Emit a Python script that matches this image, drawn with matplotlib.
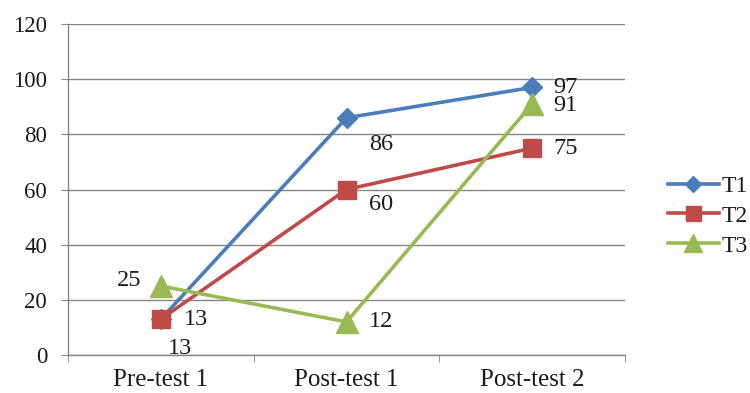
import matplotlib
matplotlib.use("Agg")
import matplotlib.pyplot as plt

categories = ["Pre-test 1", "Post-test 1", "Post-test 2"]
t1 = [13, 86, 97]
t2 = [13, 60, 75]
t3 = [25, 12, 91]
series_names = ["T1", "T2", "T3"]
y_ticks = [0, 20, 40, 60, 80, 100, 120]

plt.rcParams["font.family"] = ["Liberation Serif", "DejaVu Serif"]

fig = plt.figure(figsize=(7.5, 3.93), dpi=100)
ax = fig.add_axes([68 / 750, 1 - 355 / 393, (625 - 68) / 750, (355 - 24) / 393])

x = list(range(len(categories)))
styles = [
    (t1, "#4A7EBB", "D", 10),
    (t2, "#BE4B48", "s", 13.5),
    (t3, "#98B954", "^", 16),
]
for (vals, color, marker, ms), name in zip(styles, series_names):
    ax.plot(x, vals, color=color, lw=2.6, marker=marker, ms=ms,
            markeredgecolor=color, label=name, zorder=3, clip_on=False)

# value labels, offsets in points
offsets = {
    "T1": [(14, -21), (25, -19), (24, 0)],
    "T2": [(25, 0), (25, -11), (24, 0)],
    "T3": [(-23, 4), (25, 0), (24, -1)],
}
for vals, name in zip([t1, t2, t3], series_names):
    for xi, v, off in zip(x, vals, offsets[name]):
        ax.annotate(str(v), (xi, v), xytext=off, textcoords="offset points",
                    ha="center", va="center", fontsize=17.5, color="#1a1a1a")

ax.set_xlim(-0.5, len(categories) - 0.5)
ax.set_ylim(0, 120)
ax.set_yticks(y_ticks)
ax.set_xticks(x)
ax.set_xticklabels(categories)
ax.set_xticks([i - 0.5 for i in range(len(categories) + 1)], minor=True)
ax.tick_params(axis="x", which="major", length=0, pad=10, labelsize=18,
               labelcolor="#1a1a1a")
ax.tick_params(axis="x", which="minor", length=5, color="#868686")
ax.tick_params(axis="y", length=5, color="#868686", labelsize=16.5, pad=10,
               labelcolor="#1a1a1a")

ax.yaxis.grid(True, color="#868686", lw=1)
ax.set_axisbelow(True)
for s in ["top", "right"]:
    ax.spines[s].set_visible(False)
for s in ["left", "bottom"]:
    ax.spines[s].set_color("#868686")
    ax.spines[s].set_linewidth(1)

leg = fig.legend(loc="center left", bbox_to_anchor=(668 / 750, 1 - 216 / 393),
                 frameon=False, fontsize=17, handlelength=2.15,
                 handletextpad=0.1, labelspacing=0.35, borderpad=0,
                 borderaxespad=0, markerscale=0.8)
for t in leg.get_texts():
    t.set_color("#1a1a1a")

fig.savefig("out.png", dpi=100)
